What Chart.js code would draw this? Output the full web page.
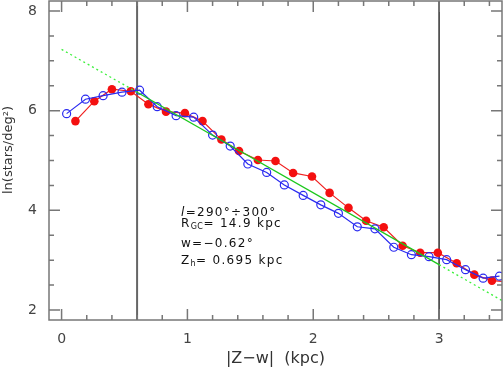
<!DOCTYPE html>
<html>
<head>
<meta charset="utf-8">
<script src="https://cdn.jsdelivr.net/npm/chart.js@4.4.1/dist/chart.umd.min.js"></script>
<style>
  html, body { margin: 0; padding: 0; background: #fff; }
  #wrap { width: 503px; height: 368px; }
</style>
</head>
<body>
<div id="wrap"><canvas id="c"></canvas></div>
<script>
// blue: open circles
const BLUE_X = [0.04, 0.19, 0.33, 0.48, 0.62, 0.76, 0.91, 1.05, 1.20, 1.34, 1.48, 1.63, 1.77,
                1.92, 2.06, 2.20, 2.35, 2.49, 2.64, 2.78, 2.92, 3.06, 3.21, 3.35, 3.48];
const BLUE_Y = [5.94, 6.23, 6.30, 6.37, 6.41, 6.08, 5.90, 5.87, 5.51, 5.29, 4.93, 4.76, 4.51,
                4.30, 4.11, 3.94, 3.67, 3.63, 3.26, 3.11, 3.07, 3.01, 2.81, 2.64, 2.68];
// red: filled circles
const RED_X = [0.11, 0.26, 0.40, 0.55, 0.69, 0.83, 0.98, 1.12, 1.27, 1.41, 1.56, 1.70, 1.84,
               1.99, 2.13, 2.28, 2.42, 2.56, 2.71, 2.85, 2.99, 3.14, 3.28, 3.42, 3.57];
const RED_Y = [5.79, 6.19, 6.43, 6.39, 6.13, 5.98, 5.95, 5.79, 5.42, 5.19, 5.01, 4.99, 4.75,
               4.68, 4.35, 4.05, 3.79, 3.66, 3.29, 3.15, 3.15, 2.94, 2.71, 2.59, 2.56];
// exponential fit (solid inside the fit range, dotted outside)
const FIT_X = [0, 0.6, 3.0, 3.5];
const FIT_Y = [7.23, 6.37, 2.91, 2.19];
const CUTS = [0.6, 3.0];

const X_MIN = -0.1, X_MAX = 3.5, Y_MIN = 1.8, Y_MAX = 8.2;
const X_MAJOR = [0, 1, 2, 3];
const X_MINOR = [0.2, 0.4, 0.6, 0.8, 1.2, 1.4, 1.6, 1.8, 2.2, 2.4, 2.6, 2.8, 3.2, 3.4];
const Y_MAJOR = [2, 4, 6, 8];
const Y_MINOR = [2.5, 3, 3.5, 4.5, 5, 5.5, 6.5, 7, 7.5];

const F = '12px "DejaVu Sans"', FS = '8px "DejaVu Sans"';
const NOTE = [
  { y: 216, parts: [['l', 'italic ' + F, 0], ['=290°÷300°', F, 0]] },
  { y: 227, parts: [['R', F, 0], ['GC', FS, 2], ['= 14.9 kpc', F, 0]] },
  { y: 247, parts: [['w=−0.62°', F, 0]] },
  { y: 264, parts: [['Z', F, 0], ['h', FS, 2], ['= 0.695 kpc', F, 0]] }
];

const pts = (xs, ys) => xs.map((x, i) => ({ x, y: ys[i] }));
const FRAME = '#777';

const frame = {
  id: 'frame',
  afterDraw(chart) {
    const { ctx, chartArea: a, scales: { x, y } } = chart;
    ctx.save();
    ctx.strokeStyle = FRAME;
    ctx.lineWidth = 1.5;
    ctx.strokeRect(a.left, a.top, a.right - a.left, a.bottom - a.top);
    ctx.beginPath();
    const tx = (v, len) => {
      const p = x.getPixelForValue(v);
      ctx.moveTo(p, a.bottom); ctx.lineTo(p, a.bottom - len);
      ctx.moveTo(p, a.top); ctx.lineTo(p, a.top + len);
    };
    const ty = (v, len) => {
      const p = y.getPixelForValue(v);
      ctx.moveTo(a.left, p); ctx.lineTo(a.left + len, p);
      ctx.moveTo(a.right, p); ctx.lineTo(a.right - len, p);
    };
    X_MAJOR.forEach(v => tx(v, 11));
    X_MINOR.forEach(v => tx(v, 5));
    Y_MAJOR.forEach(v => ty(v, 11));
    Y_MINOR.forEach(v => ty(v, 5));
    ctx.stroke();

    // y title
    ctx.fillStyle = '#333';
    ctx.font = '13px "DejaVu Sans"';
    ctx.textAlign = 'center';
    ctx.textBaseline = 'middle';
    ctx.translate(9, 150);
    ctx.rotate(-Math.PI / 2);
    ctx.fillText('ln(stars/deg²)', 0, 0);
    ctx.restore();

    // annotation
    ctx.save();
    ctx.fillStyle = '#111';
    ctx.textBaseline = 'alphabetic';
    ctx.textAlign = 'left';
    NOTE.forEach(line => {
      let px = 181;
      line.parts.forEach(([t, f, dy]) => {
        ctx.font = f;
        ctx.letterSpacing = f === FS ? '0.5px' : '1.3px';
        ctx.fillText(t, px, line.y + dy);
        px += ctx.measureText(t).width;
      });
    });
    ctx.restore();
  }
};

new Chart(document.getElementById('c'), {
  type: 'scatter',
  data: {
    datasets: [
      {
        label: 'fit', data: pts(FIT_X, FIT_Y), showLine: true, order: 0,
        borderWidth: 1.3, pointRadius: 0, borderColor: '#22d022',
        segment: {
          borderDash: c => c.p0DataIndex === 1 ? [] : [2, 3],
          borderColor: c => c.p0DataIndex === 1 ? '#1cc81c' : '#3cf03c'
        }
      },
      {
        label: 'blue', data: pts(BLUE_X, BLUE_Y), showLine: true, order: 1,
        borderColor: '#2a2af0', borderWidth: 1.2,
        pointRadius: 4, pointBorderWidth: 1.2,
        pointBackgroundColor: 'rgba(0,0,0,0)', pointBorderColor: '#2a2af0'
      },
      {
        label: 'red', data: pts(RED_X, RED_Y), showLine: true, order: 2,
        borderColor: '#f02020', borderWidth: 1.2,
        pointRadius: 4.3, pointBorderWidth: 0,
        pointBackgroundColor: '#f41010'
      },
      {
        label: 'cut1', data: [{ x: CUTS[0], y: Y_MIN }, { x: CUTS[0], y: Y_MAX }], showLine: true, order: 3,
        borderColor: '#666', borderWidth: 2, pointRadius: 0
      },
      {
        label: 'cut2', data: [{ x: CUTS[1], y: Y_MIN }, { x: CUTS[1], y: Y_MAX }], showLine: true, order: 3,
        borderColor: '#222', borderWidth: 1.4, pointRadius: 0
      }
    ]
  },
  options: {
    responsive: true, maintainAspectRatio: false, animation: false,
    layout: { autoPadding: false, padding: { top: 1, right: 1, left: 0, bottom: 0 } },
    plugins: { legend: { display: false }, tooltip: { enabled: false } },
    scales: {
      x: {
        type: 'linear', min: X_MIN, max: X_MAX,
        afterBuildTicks: s => { s.ticks = X_MAJOR.map(v => ({ value: v })); },
        afterFit: s => { s.height = 48; s.paddingLeft = 0; s.paddingRight = 0; },
        grid: { display: false, drawTicks: false }, border: { display: false },
        ticks: { color: '#444', padding: 11, font: { family: 'DejaVu Sans', size: 14 } },
        title: {
          display: true, text: '|Z−w|  (kpc)', color: '#333',
          font: { family: 'DejaVu Sans', size: 16 }, padding: { top: 0, bottom: 0 }
        }
      },
      y: {
        type: 'linear', min: Y_MIN, max: Y_MAX,
        afterBuildTicks: s => { s.ticks = Y_MAJOR.map(v => ({ value: v })); },
        afterFit: s => { s.width = 49; s.paddingTop = 0; s.paddingBottom = 0; },
        grid: { display: false, drawTicks: false }, border: { display: false },
        ticks: { color: '#444', padding: 12, font: { family: 'DejaVu Sans', size: 14 } }
      }
    }
  },
  plugins: [frame]
});
</script>
</body>
</html>
